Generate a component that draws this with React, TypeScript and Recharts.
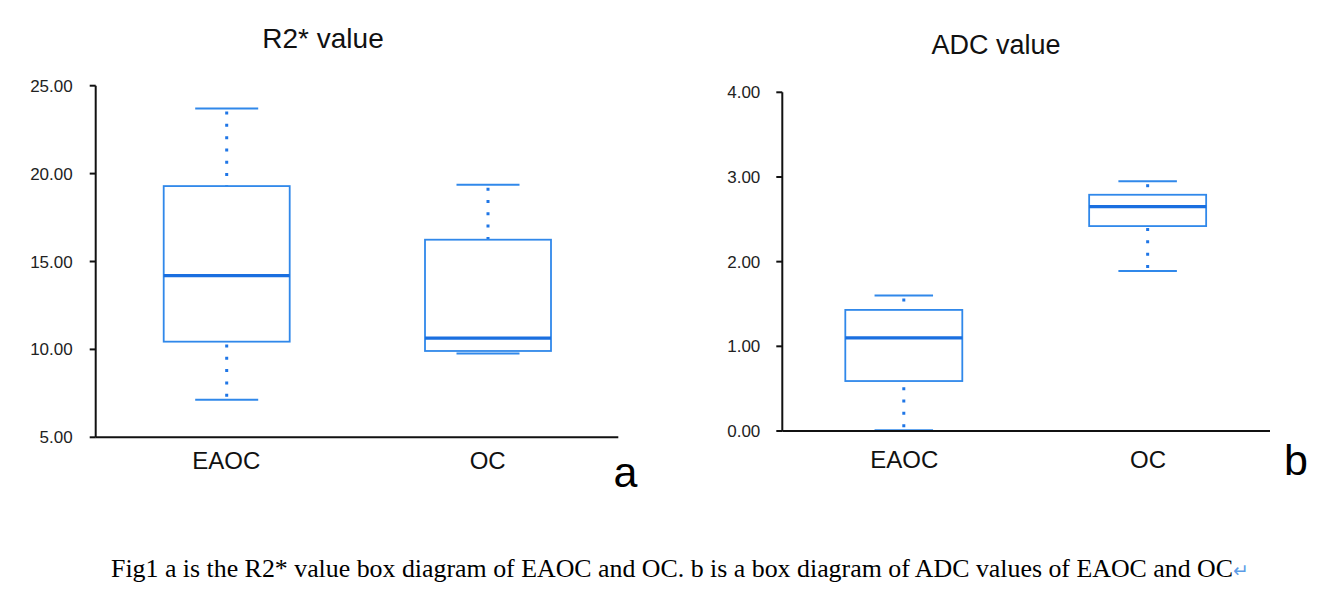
import { CSSProperties, FC, useLayoutEffect, useRef, useState } from 'react'
import { Bar, ComposedChart, XAxis, YAxis } from 'recharts'

// values
const categories = ['EAOC', 'OC']

const r2Min = [7.14, 9.76]
const r2Q1 = [10.44, 9.91]
const r2Median = [14.2, 10.64]
const r2Q3 = [19.29, 16.24]
const r2Max = [23.7, 19.37]
const r2Ticks = [5, 10, 15, 20, 25]

const adcMin = [0.01, 1.89]
const adcQ1 = [0.59, 2.42]
const adcMedian = [1.1, 2.65]
const adcQ3 = [1.43, 2.79]
const adcMax = [1.6, 2.95]
const adcTicks = [0, 1, 2, 3, 4]

const caption = 'Fig1 a is the R2* value box diagram of EAOC and OC. b is a box diagram of ADC values of EAOC and OC'

interface BoxRow {
  name: string
  min: number
  q1: number
  median: number
  q3: number
  max: number
}

const toRows = (mins: number[], q1s: number[], medians: number[], q3s: number[], maxs: number[]): BoxRow[] =>
  categories.map((name, i) => ({name, min: mins[i], q1: q1s[i], median: medians[i], q3: q3s[i], max: maxs[i]}))

const r2Rows = toRows(r2Min, r2Q1, r2Median, r2Q3, r2Max)
const adcRows = toRows(adcMin, adcQ1, adcMedian, adcQ3, adcMax)

const BOX = '#3088ea'
const MEDIAN = '#1a6fe0'
const DOT = '#1f76e6'
const AXIS = '#111'
const FONT = "'Liberation Sans', Arial, Helvetica, sans-serif"

// the bar spans min..max, the rest is placed linearly inside it
const BoxShape = (props: any) => {
  const {x, y, width, height, payload} = props
  const top = Math.min(y, y + height)
  const bottom = Math.max(y, y + height)
  const {min, q1, median, q3, max} = payload as BoxRow
  const py = (v: number) => bottom - (bottom - top) * (v - min) / (max - min)
  const cx = x + width / 2
  const cap = width / 4
  return (
    <g>
      <line x1={cx} x2={cx} y1={py(max) + 3} y2={py(q3)} stroke={DOT} strokeWidth={3} strokeDasharray="3 9.3"/>
      <line x1={cx} x2={cx} y1={py(min) - 3} y2={py(q1)} stroke={DOT} strokeWidth={3} strokeDasharray="3 9.3"/>
      <line x1={cx - cap} x2={cx + cap} y1={py(max)} y2={py(max)} stroke={BOX} strokeWidth={2}/>
      <line x1={cx - cap} x2={cx + cap} y1={py(min)} y2={py(min)} stroke={BOX} strokeWidth={2}/>
      <rect x={x} y={py(q3)} width={width} height={py(q1) - py(q3)} fill="#fff" stroke={BOX} strokeWidth={1.8}/>
      <line x1={x} x2={x + width} y1={py(median)} y2={py(median)} stroke={MEDIAN} strokeWidth={3.2}/>
    </g>
  )
}

interface BoxChartProps {
  rows: BoxRow[]
  domain: [number, number]
  ticks: number[]
  width: number
  height: number
  margin: { top: number, right: number, bottom: number, left: number }
  yWidth: number
  yTickMargin: number
  xTickMargin: number
  barSize: number
}

const BoxChart: FC<BoxChartProps> = ({rows, domain, ticks, width, height, margin, yWidth, yTickMargin, xTickMargin, barSize}) => (
  <ComposedChart width={width} height={height} data={rows} margin={margin}>
    <XAxis dataKey="name" height={40} tickLine={false} tickSize={0} tickMargin={xTickMargin}
           axisLine={{stroke: AXIS, strokeWidth: 2}} tick={{fontSize: 24, fill: '#111'}}/>
    <YAxis type="number" domain={domain} ticks={ticks} interval={0} width={yWidth} tickSize={6}
           tickMargin={yTickMargin} tickFormatter={(v: number) => v.toFixed(2)}
           axisLine={{stroke: AXIS, strokeWidth: 2}} tickLine={{stroke: AXIS, strokeWidth: 2}}
           tick={{fontSize: 17, fill: '#222'}}/>
    <Bar dataKey={(d: BoxRow) => [d.min, d.max]} barSize={barSize} shape={BoxShape} isAnimationActive={false}/>
  </ComposedChart>
)

// the caption in the figure is a condensed serif, so squeeze it to the same width
const Caption: FC = () => {
  const ref = useRef<HTMLDivElement>(null)
  const [k, setK] = useState(1)
  useLayoutEffect(() => {
    if (ref.current) setK(1138 / ref.current.scrollWidth)
  }, [])
  return (
    <div ref={ref} style={{
      position: 'absolute', left: 111, top: 554, whiteSpace: 'nowrap', lineHeight: '30px',
      fontFamily: "'Liberation Serif', 'Times New Roman', serif", fontSize: 26, color: '#000',
      transform: `scaleX(${k})`, transformOrigin: 'left center',
    }}>
      {caption}
      <span style={{fontFamily: "'DejaVu Sans', sans-serif", fontSize: 19, color: '#5b9be6'}}>↵</span>
    </div>
  )
}

const sPage: CSSProperties = {
  position: 'absolute',
  left: 0,
  top: 0,
  width: 1330,
  height: 600,
  background: '#fff',
  fontFamily: FONT,
}

export default function App() {
  return (
    <div style={sPage}>
      <div style={{position: 'absolute', left: 0, top: 0}}>
        <BoxChart rows={r2Rows} domain={[5, 25]} ticks={r2Ticks} width={660} height={520}
                  margin={{top: 85.7, right: 41.7, bottom: 42.7, left: 15.7}} yWidth={80}
                  yTickMargin={17} xTickMargin={15} barSize={126}/>
      </div>
      <div style={{position: 'absolute', left: 700, top: 0}}>
        <BoxChart rows={adcRows} domain={[0, 4]} ticks={adcTicks} width={610} height={520}
                  margin={{top: 92.3, right: 40, bottom: 49, left: 12.3}} yWidth={70}
                  yTickMargin={16} xTickMargin={20} barSize={117}/>
      </div>
      <svg width={1330} height={600} style={{position: 'absolute', left: 0, top: 0, pointerEvents: 'none'}}>
        <text x={323} y={47.7} textAnchor="middle" fontSize={28} fill="#111">R2* value</text>
        <text x={996} y={54.3} textAnchor="middle" fontSize={27} fill="#111">ADC value</text>
        <text x={625.5} y={487} textAnchor="middle" fontSize={43} fill="#000">a</text>
        <text x={1296} y={475} textAnchor="middle" fontSize={43} fill="#000">b</text>
      </svg>
      <Caption/>
    </div>
  )
}
